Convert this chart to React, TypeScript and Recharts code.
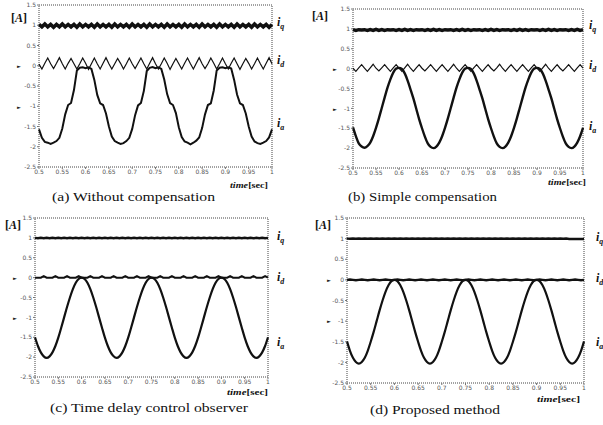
import React from "react";
import { LineChart, Line, XAxis, YAxis, ReferenceArea } from "recharts";

const time = [
  0.5, 0.50625, 0.5125, 0.51875, 0.525, 0.53125, 0.5375, 0.54375, 0.55, 0.55625,
  0.5625, 0.56875, 0.575, 0.58125, 0.5875, 0.59375, 0.6, 0.60625, 0.6125, 0.61875,
  0.625, 0.63125, 0.6375, 0.64375, 0.65, 0.65625, 0.6625, 0.66875, 0.675, 0.68125,
  0.6875, 0.69375, 0.7, 0.70625, 0.7125, 0.71875, 0.725, 0.73125, 0.7375, 0.74375,
  0.75, 0.75625, 0.7625, 0.76875, 0.775, 0.78125, 0.7875, 0.79375, 0.8, 0.80625,
  0.8125, 0.81875, 0.825, 0.83125, 0.8375, 0.84375, 0.85, 0.85625, 0.8625, 0.86875,
  0.875, 0.88125, 0.8875, 0.89375, 0.9, 0.90625, 0.9125, 0.91875, 0.925, 0.93125,
  0.9375, 0.94375, 0.95, 0.95625, 0.9625, 0.96875, 0.975, 0.98125, 0.9875, 0.99375,
  1.0,
];

const xTicks = [0.5, 0.55, 0.6, 0.65, 0.7, 0.75, 0.8, 0.85, 0.9, 0.95, 1];
const yTicks = [-2.5, -2, -1.5, -1, -0.5, 0, 0.5, 1, 1.5];

// (a) Without compensation
const iqA = [
  1.02, 0.96, 1.03, 0.96, 1.02, 0.95, 1.02, 0.96, 1.03, 0.96,
  1.02, 0.96, 1.02, 0.95, 1.03, 0.96, 1.02, 0.96, 1.02, 0.95,
  1.03, 0.96, 1.02, 0.96, 1.02, 0.95, 1.03, 0.96, 1.02, 0.96,
  1.02, 0.95, 1.03, 0.96, 1.02, 0.96, 1.02, 0.95, 1.03, 0.96,
  1.02, 0.96, 1.02, 0.95, 1.03, 0.96, 1.02, 0.96, 1.02, 0.95,
  1.03, 0.96, 1.02, 0.96, 1.02, 0.95, 1.03, 0.96, 1.02, 0.96,
  1.02, 0.95, 1.03, 0.96, 1.02, 0.96, 1.02, 0.95, 1.03, 0.96,
  1.02, 0.96, 1.02, 0.95, 1.03, 0.96, 1.02, 0.96, 1.02, 0.95,
  1.02,
];
const idA = [
  0.04, -0.08, 0.06, 0.19, 0.05, -0.07, 0.06, 0.2, 0.05, -0.08,
  0.06, 0.18, 0.05, -0.08, 0.05, 0.19, 0.06, -0.09, 0.05, 0.19,
  0.05, -0.08, 0.06, 0.2, 0.05, -0.08, 0.05, 0.18, 0.06, -0.08,
  0.05, 0.19, 0.05, -0.07, 0.06, 0.19, 0.05, -0.08, 0.06, 0.2,
  0.05, -0.08, 0.05, 0.19, 0.06, -0.09, 0.05, 0.18, 0.05, -0.08,
  0.06, 0.19, 0.05, -0.08, 0.06, 0.2, 0.05, -0.07, 0.05, 0.19,
  0.06, -0.08, 0.05, 0.19, 0.05, -0.08, 0.06, 0.19, 0.05, -0.09,
  0.05, 0.18, 0.06, -0.08, 0.05, 0.19, 0.05, -0.08, 0.06, 0.2,
  0.05,
];
const iaA = [
  -1.57, -1.78, -1.88, -1.9, -1.93, -1.9, -1.86, -1.78, -1.55, -1.2,
  -0.97, -0.92, -0.6, -0.12, -0.05, -0.04, -0.06, -0.04, -0.08, -0.35,
  -0.72, -0.93, -0.97, -1.18, -1.5, -1.75, -1.86, -1.9, -1.93, -1.91,
  -1.86, -1.78, -1.56, -1.22, -0.98, -0.92, -0.62, -0.13, -0.05, -0.03,
  -0.06, -0.04, -0.08, -0.34, -0.7, -0.92, -0.97, -1.17, -1.52, -1.76,
  -1.87, -1.9, -1.94, -1.9, -1.85, -1.77, -1.54, -1.2, -0.97, -0.93,
  -0.61, -0.12, -0.05, -0.04, -0.06, -0.04, -0.07, -0.35, -0.71, -0.93,
  -0.97, -1.18, -1.5, -1.75, -1.87, -1.91, -1.93, -1.9, -1.86, -1.77,
  -1.57,
];

// (b) Simple compensation
const iqB = [
  0.98, 0.96, 0.98, 0.97, 0.98, 0.96, 0.98, 0.96, 0.99, 0.96,
  0.98, 0.96, 0.98, 0.97, 0.98, 0.96, 0.98, 0.96, 0.99, 0.96,
  0.98, 0.96, 0.98, 0.97, 0.98, 0.96, 0.98, 0.96, 0.99, 0.96,
  0.98, 0.96, 0.98, 0.97, 0.98, 0.96, 0.98, 0.96, 0.99, 0.96,
  0.98, 0.96, 0.98, 0.97, 0.98, 0.96, 0.98, 0.96, 0.99, 0.96,
  0.98, 0.96, 0.98, 0.97, 0.98, 0.96, 0.98, 0.96, 0.99, 0.96,
  0.98, 0.96, 0.98, 0.97, 0.98, 0.96, 0.98, 0.96, 0.99, 0.96,
  0.98, 0.96, 0.98, 0.97, 0.98, 0.96, 0.98, 0.96, 0.99, 0.96,
  0.98,
];
const idB = [
  0.01, -0.07, 0.02, 0.1, 0.01, -0.07, 0.02, 0.11, 0.01, -0.06,
  0.02, 0.1, 0.01, -0.07, 0.02, 0.1, 0.01, -0.07, 0.02, 0.11,
  0.01, -0.07, 0.02, 0.1, 0.01, -0.06, 0.02, 0.1, 0.01, -0.07,
  0.02, 0.1, 0.01, -0.07, 0.02, 0.11, 0.01, -0.07, 0.02, 0.1,
  0.01, -0.07, 0.02, 0.1, 0.01, -0.07, 0.02, 0.1, 0.01, -0.06,
  0.02, 0.11, 0.01, -0.07, 0.02, 0.1, 0.01, -0.07, 0.02, 0.1,
  0.01, -0.07, 0.02, 0.1, 0.01, -0.07, 0.02, 0.11, 0.01, -0.07,
  0.02, 0.1, 0.01, -0.06, 0.02, 0.1, 0.01, -0.07, 0.02, 0.1,
  0.01,
];
const iaB = [
  -1.48, -1.7, -1.88, -1.96, -1.99, -1.95, -1.86, -1.7, -1.49, -1.25,
  -0.99, -0.73, -0.48, -0.27, -0.1, 0.0, 0.02, -0.01, -0.12, -0.3,
  -0.52, -0.75, -1.01, -1.27, -1.5, -1.71, -1.88, -1.97, -2.0, -1.96,
  -1.86, -1.7, -1.49, -1.25, -0.99, -0.73, -0.48, -0.27, -0.1, 0.0,
  0.02, -0.01, -0.12, -0.3, -0.52, -0.75, -1.01, -1.27, -1.5, -1.71,
  -1.88, -1.97, -2.0, -1.96, -1.86, -1.7, -1.49, -1.25, -0.99, -0.73,
  -0.48, -0.27, -0.1, 0.0, 0.02, -0.01, -0.12, -0.3, -0.52, -0.75,
  -1.01, -1.27, -1.5, -1.71, -1.88, -1.97, -2.0, -1.96, -1.86, -1.7,
  -1.49,
];

// (c) Time delay control observer
const iqC = [
  1.0, 0.99, 1.0, 0.99, 1.0, 0.99, 1.0, 0.99, 1.0, 0.99,
  1.0, 0.99, 1.0, 0.99, 1.0, 0.99, 1.0, 0.99, 1.0, 0.99,
  1.0, 0.99, 1.0, 0.99, 1.0, 0.99, 1.0, 0.99, 1.0, 0.99,
  1.0, 0.99, 1.0, 0.99, 1.0, 0.99, 1.0, 0.99, 1.0, 0.99,
  1.0, 0.99, 1.0, 0.99, 1.0, 0.99, 1.0, 0.99, 1.0, 0.99,
  1.0, 0.99, 1.0, 0.99, 1.0, 0.99, 1.0, 0.99, 1.0, 0.99,
  1.0, 0.99, 1.0, 0.99, 1.0, 0.99, 1.0, 0.99, 1.0, 0.99,
  1.0, 0.99, 1.0, 0.99, 1.0, 0.99, 1.0, 0.99, 1.0, 0.99,
  1.0,
];
const idC = [
  0, 0, 0, 0.04, 0, 0, 0, 0.04, 0, 0,
  0, 0.04, 0, 0, 0, 0.04, 0, 0, 0, 0.04,
  0, 0, 0, 0.04, 0, 0, 0, 0.04, 0, 0,
  0, 0.04, 0, 0, 0, 0.04, 0, 0, 0, 0.04,
  0, 0, 0, 0.04, 0, 0, 0, 0.04, 0, 0,
  0, 0.04, 0, 0, 0, 0.04, 0, 0, 0, 0.04,
  0, 0, 0, 0.04, 0, 0, 0, 0.04, 0, 0,
  0, 0.04, 0, 0, 0, 0.04, 0, 0, 0, 0.04,
  0,
];
const iaC = [
  -1.5, -1.72, -1.88, -1.98, -2.02, -1.98, -1.88, -1.72, -1.51, -1.26,
  -1.0, -0.74, -0.5, -0.29, -0.13, -0.03, 0, -0.03, -0.13, -0.29,
  -0.5, -0.74, -1.0, -1.26, -1.51, -1.72, -1.88, -1.98, -2.02, -1.98,
  -1.88, -1.72, -1.51, -1.26, -1.0, -0.74, -0.5, -0.29, -0.13, -0.03,
  0, -0.03, -0.13, -0.29, -0.5, -0.74, -1.0, -1.26, -1.51, -1.72,
  -1.88, -1.98, -2.02, -1.98, -1.88, -1.72, -1.51, -1.26, -1.0, -0.74,
  -0.5, -0.29, -0.13, -0.03, 0, -0.03, -0.13, -0.29, -0.5, -0.74,
  -1.0, -1.26, -1.51, -1.72, -1.88, -1.98, -2.02, -1.98, -1.88, -1.72,
  -1.5,
];

// (d) Proposed method
const iqD = [
  1.0, 0.995, 1.0, 0.995, 1.0, 0.995, 1.0, 0.995, 1.0, 0.995,
  1.0, 0.995, 1.0, 0.995, 1.0, 0.995, 1.0, 0.995, 1.0, 0.995,
  1.0, 0.995, 1.0, 0.995, 1.0, 0.995, 1.0, 0.995, 1.0, 0.995,
  1.0, 0.995, 1.0, 0.995, 1.0, 0.995, 1.0, 0.995, 1.0, 0.995,
  1.0, 0.995, 1.0, 0.995, 1.0, 0.995, 1.0, 0.995, 1.0, 0.995,
  1.0, 0.995, 1.0, 0.995, 1.0, 0.995, 1.0, 0.995, 1.0, 0.995,
  1.0, 0.995, 1.0, 0.995, 1.0, 0.995, 1.0, 0.995, 1.0, 0.995,
  1.0, 0.995, 1.0, 0.995, 1.0, 0.99, 0.99, 0.99, 0.99, 0.99,
  0.99,
];
const idD = [
  0, 0.01, 0, -0.01, 0, 0.01, 0, -0.01, 0, 0.01,
  0, -0.01, 0, 0.01, 0, -0.01, 0, 0.01, 0, -0.01,
  0, 0.01, 0, -0.01, 0, 0.01, 0, -0.01, 0, 0.01,
  0, -0.01, 0, 0.01, 0, -0.01, 0, 0.01, 0, -0.01,
  0, 0.01, 0, -0.01, 0, 0.01, 0, -0.01, 0, 0.01,
  0, -0.01, 0, 0.01, 0, -0.01, 0, 0.01, 0, -0.01,
  0, 0.01, 0, -0.01, 0, 0.01, 0, -0.01, 0, 0.01,
  0, -0.01, 0, 0.01, 0, -0.01, 0, 0.01, 0, -0.01,
  0,
];
const iaD = [
  -1.49, -1.72, -1.89, -1.99, -2.03, -1.99, -1.89, -1.72, -1.5, -1.26,
  -1.0, -0.74, -0.5, -0.29, -0.13, -0.03, 0, -0.03, -0.13, -0.29,
  -0.5, -0.74, -1.0, -1.26, -1.5, -1.72, -1.89, -1.99, -2.03, -1.99,
  -1.89, -1.72, -1.5, -1.26, -1.0, -0.74, -0.5, -0.29, -0.13, -0.03,
  0, -0.03, -0.13, -0.29, -0.5, -0.74, -1.0, -1.26, -1.5, -1.72,
  -1.89, -1.99, -2.03, -1.99, -1.89, -1.72, -1.5, -1.26, -1.0, -0.74,
  -0.5, -0.29, -0.13, -0.03, 0, -0.03, -0.13, -0.29, -0.5, -0.74,
  -1.0, -1.26, -1.5, -1.72, -1.89, -1.99, -2.03, -1.99, -1.89, -1.72,
  -1.49,
];

const buildRows = (iq: number[], id: number[], ia: number[]) =>
  time.map((t, i) => ({ t, iq: iq[i], id: id[i], ia: ia[i] }));

type PanelProps = {
  box: [number, number, number, number];
  plot: [number, number, number, number];
  rows: { t: number; iq: number; id: number; ia: number }[];
  widths: [number, number, number];
  iaType: "linear" | "monotone";
};

const YW = 14;
const XH = 10;

function Panel({ box, plot, rows, widths, iaType }: PanelProps) {
  const [bx, by, bw, bh] = box;
  const [x1, y1, x2, y2] = plot;
  const margin = {
    left: x1 - bx - YW,
    top: y1 - by,
    right: bx + bw - x2,
    bottom: by + bh - y2 - XH,
  };
  const tickStyle = { fontSize: 6, fill: "#555", fontFamily: "DejaVu Sans" };
  return (
    <div style={{ position: "absolute", left: bx, top: by }}>
      <LineChart width={bw} height={bh} data={rows} margin={margin}>
        <XAxis
          dataKey="t"
          type="number"
          domain={[0.5, 1]}
          ticks={xTicks}
          interval={0}
          height={XH}
          axisLine={false}
          tickSize={2}
          tickMargin={1}
          stroke="#777"
          tick={tickStyle}
          tickFormatter={(v: number) => String(v)}
        />
        <YAxis
          type="number"
          domain={[-2.5, 1.5]}
          ticks={yTicks}
          interval={0}
          width={YW}
          axisLine={false}
          tickSize={2}
          tickMargin={1}
          stroke="#777"
          tick={tickStyle}
          tickFormatter={(v: number) => String(v)}
        />
        <ReferenceArea
          x1={0.5}
          x2={1}
          y1={-2.5}
          y2={1.5}
          fill="none"
          fillOpacity={0}
          stroke="#444"
          strokeWidth={1}
          strokeDasharray="1 1"
        />
        <Line dataKey="iq" type="linear" stroke="#111" strokeWidth={widths[0]} dot={false} isAnimationActive={false} />
        <Line dataKey="id" type="linear" stroke="#111" strokeWidth={widths[1]} dot={false} isAnimationActive={false} />
        <Line dataKey="ia" type={iaType} stroke="#111" strokeWidth={widths[2]} dot={false} isAnimationActive={false} />
      </LineChart>
    </div>
  );
}

const serif = "'Liberation Serif', 'DejaVu Serif', serif";

function ILabel({ x, y, sub }: { x: number; y: number; sub: string }) {
  return (
    <text x={x} y={y} fontFamily={serif} fontStyle="italic" fontWeight={700} fontSize={12} fill="#111">
      i
      <tspan fontSize={8} dy={3}>
        {sub}
      </tspan>
    </text>
  );
}

function ALabel({ x, y }: { x: number; y: number }) {
  return (
    <text x={x} y={y} fontFamily={serif} fontWeight={700} fontSize={12} fill="#111">
      [<tspan fontStyle="italic">A</tspan>]
    </text>
  );
}

function Marker({ x, y }: { x: number; y: number }) {
  return (
    <text x={x} y={y} fontFamily="DejaVu Sans" fontSize={5} fill="#222">
      ►
    </text>
  );
}

function TimeLabel({ x, y, w }: { x: number; y: number; w: number }) {
  return (
    <text
      x={x}
      y={y}
      fontFamily={serif}
      fontWeight={700}
      fontSize={9}
      fill="#111"
      textLength={w}
      lengthAdjust="spacingAndGlyphs"
    >
      <tspan fontStyle="italic">time</tspan>[sec]
    </text>
  );
}

function Caption({ x, y, w, text }: { x: number; y: number; w: number; text: string }) {
  return (
    <text x={x} y={y} fontFamily={serif} fontSize={13.5} fill="#111" textLength={w} lengthAdjust="spacingAndGlyphs">
      {text}
    </text>
  );
}

export default function App() {
  return (
    <div style={{ position: "absolute", left: 0, top: 0, width: 603, height: 425, background: "#fff", overflow: "hidden" }}>
      <Panel box={[0, 0, 300, 210]} plot={[39, 5, 272, 167]} rows={buildRows(iqA, idA, iaA)} widths={[3.5, 1.2, 2]} iaType="linear" />
      <Panel box={[300, 0, 303, 210]} plot={[353, 9, 583, 168]} rows={buildRows(iqB, idB, iaB)} widths={[3.5, 1.2, 2.4]} iaType="monotone" />
      <Panel box={[0, 210, 300, 215]} plot={[35, 218, 268, 377]} rows={buildRows(iqC, idC, iaC)} widths={[2.5, 2, 2.2]} iaType="monotone" />
      <Panel box={[300, 210, 303, 215]} plot={[347, 218, 584, 383]} rows={buildRows(iqD, idD, iaD)} widths={[2.5, 2.5, 2.2]} iaType="monotone" />
      <svg width={603} height={425} style={{ position: "absolute", left: 0, top: 0, pointerEvents: "none" }}>
        <ALabel x={11} y={22} />
        <ALabel x={312} y={20} />
        <ALabel x={5} y={229} />
        <ALabel x={315} y={229} />

        <Marker x={17} y={68} />
        <Marker x={17} y={109} />
        <Marker x={333} y={71} />
        <Marker x={333} y={111} />
        <Marker x={13} y={280} />
        <Marker x={13} y={320} />
        <Marker x={327} y={282} />
        <Marker x={327} y={323} />

        <ILabel x={277} y={26} sub="q" />
        <ILabel x={277} y={64} sub="d" />
        <ILabel x={277} y={127} sub="a" />

        <ILabel x={589} y={29} sub="q" />
        <ILabel x={589} y={69} sub="d" />
        <ILabel x={589} y={130} sub="a" />

        <ILabel x={277} y={240} sub="q" />
        <ILabel x={277} y={281} sub="d" />
        <ILabel x={277} y={346} sub="a" />

        <ILabel x={596} y={241} sub="q" />
        <ILabel x={596} y={282} sub="d" />
        <ILabel x={596} y={346} sub="a" />

        <TimeLabel x={230} y={188} w={38} />
        <TimeLabel x={548} y={185} w={38} />
        <TimeLabel x={227} y={395} w={41} />
        <TimeLabel x={537} y={402} w={43} />

        <Caption x={52} y={201} w={163} text="(a) Without compensation" />
        <Caption x={348} y={201} w={149} text="(b) Simple compensation" />
        <Caption x={50} y={412} w={198} text="(c) Time delay control observer" />
        <Caption x={370} y={414} w={130} text="(d) Proposed method" />
      </svg>
    </div>
  );
}
